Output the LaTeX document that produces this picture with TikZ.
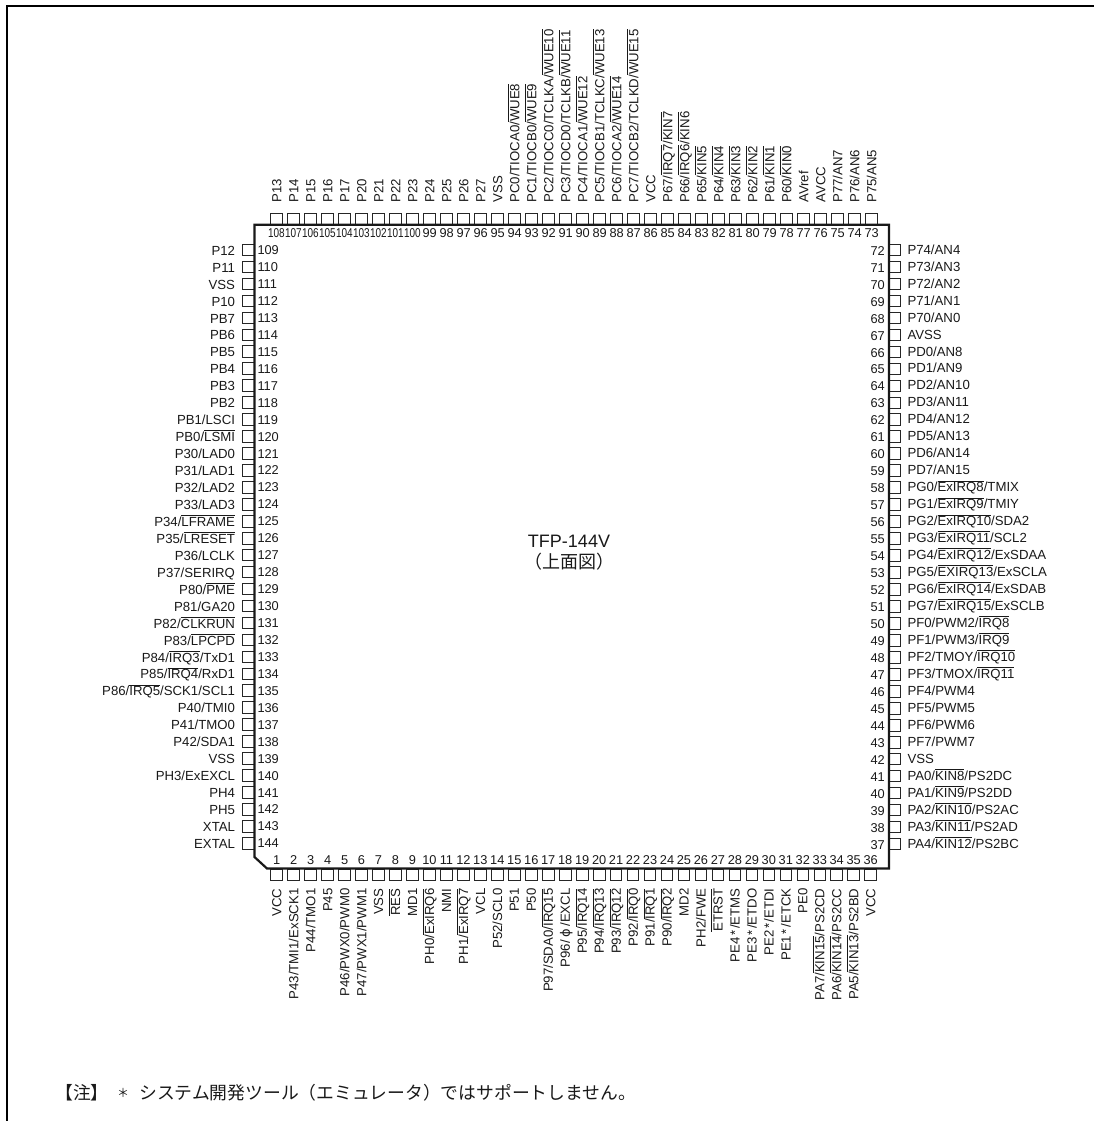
\documentclass[tikz,border=0pt]{standalone}
\usepackage{fontspec}
\usepackage{graphicx}
\setmainfont{Liberation Sans}
\newfontfamily\jpfont{Noto Sans CJK JP}
\newfontfamily\dvfont{DejaVu Sans}
\newcommand\ob[1]{\leavevmode\vbox{\hrule height .5pt \kern 1.5pt \hbox{#1}}}
\newcommand\nar[1]{\scalebox{.78}[1]{#1}}
\newcommand\myast{\kern1.6pt*\kern1.6pt}
\tikzset{
  x=1pt,y=-1pt,
  frame/.style={draw=black,line width=2.4pt},
  chip/.style={draw=black!90,line width=2.2pt,line join=miter},
  pad/.style={draw=black!85,line width=.85pt,minimum width=11.6pt,minimum height=11.6pt,inner sep=0pt,outer sep=0pt},
  lab/.style={inner sep=0pt,outer sep=0pt,font=\fontsize{13.2pt}{15pt}\selectfont,text=black!90},
  num/.style={inner sep=0pt,outer sep=0pt,font=\fontsize{12.8pt}{15pt}\selectfont,text=black!90},
  title/.style={inner sep=0pt,font=\fontsize{18pt}{20pt}\selectfont,text=black!90},
  note/.style={inner sep=0pt,anchor=base west,font=\fontsize{17.8pt}{20pt}\jpfont,text=black!90}
}
\begin{document}
\begin{tikzpicture}
\useasboundingbox (0,0) rectangle (1094,1121);
\draw[frame] (7,1121) -- (7,6) -- (1094,6);

% top side
\foreach \n/\s [count=\i from 0] in {
 108/{P13},107/{P14},106/{P15},105/{P16},104/{P17},103/{P20},102/{P21},101/{P22},100/{P23},
 99/{P24},98/{P25},97/{P26},96/{P27},95/{VSS},94/{PC0/TIOCA0/\ob{WUE8}},93/{PC1/TIOCB0/\ob{WUE9}},
 92/{PC2/TIOCC0/TCLKA/\ob{WUE10}},91/{PC3/TIOCD0/TCLKB/\ob{WUE11}},90/{PC4/TIOCA1/\ob{WUE12}},
 89/{PC5/TIOCB1/TCLKC/\ob{WUE13}},88/{PC6/TIOCA2/\ob{WUE14}},87/{PC7/TIOCB2/TCLKD/\ob{WUE15}},
 86/{VCC},85/{P67/\ob{IRQ7}/\ob{KIN7}},84/{P66/\ob{IRQ6}/\ob{KIN6}},83/{P65/\ob{KIN5}},82/{P64/\ob{KIN4}},
 81/{P63/\ob{KIN3}},80/{P62/\ob{KIN2}},79/{P61/\ob{KIN1}},78/{P60/\ob{KIN0}},77/{AVref},76/{AVCC},
 75/{P77/AN7},74/{P76/AN6},73/{P75/AN5}} {
  \pgfmathsetmacro\px{276.7+17*\i}
  \node[pad,name=pad\n] at (\px,218.8) {};
  \node[lab,rotate=90,anchor=base west,name=lab\n] at (\px+4.7,202.6) {\s};
  \ifnum\n>99
    \node[num,name=num\n] at (\px-.3,232.8) {\nar{\n}};
  \else
    \node[num,name=num\n] at (\px,232.8) {\n};
  \fi
}

% bottom side
\foreach \n/\s [count=\i from 0] in {
 1/{VCC},2/{P43/TMI1/ExSCK1},3/{P44/TMO1},4/{P45},5/{P46/PWX0/PWM0},6/{P47/PWX1/PWM1},7/{VSS},8/{\ob{RES}},9/{MD1},
 10/{PH0/\ob{ExIRQ6}},11/{NMI},12/{PH1/\ob{ExIRQ7}},13/{VCL},14/{P52/SCL0},15/{P51},16/{P50},17/{P97/SDA0/\ob{IRQ15}},
 18/{P96/\kern2.5pt{\dvfont\fontsize{13pt}{15pt}\selectfont ϕ}\kern2.5pt/EXCL},19/{P95/\ob{IRQ14}},20/{P94/\ob{IRQ13}},21/{P93/\ob{IRQ12}},22/{P92/\ob{IRQ0}},23/{P91/\ob{IRQ1}},
 24/{P90/\ob{IRQ2}},25/{MD2},26/{PH2/FWE},27/{\ob{ETRST}},28/{PE4\myast/ETMS},29/{PE3\myast/ETDO},30/{PE2\myast/ETDI},31/{PE1\myast/ETCK},
 32/{PE0},33/{PA7/\ob{KIN15}/PS2CD},34/{PA6/\ob{KIN14}/PS2CC},35/{PA5/\ob{KIN13}/PS2BD},36/{VCC}} {
  \pgfmathsetmacro\px{276.7+16.97*\i}
  \node[pad,name=pad\n] at (\px,874.8) {};
  \node[lab,rotate=90,anchor=base east,name=lab\n] at (\px+4.7,888.5) {\s};
  \node[num,name=num\n] at (\px,860) {\n};
}

% left side
\foreach \n/\s [count=\i from 0] in {
 109/{P12},110/{P11},111/{VSS},112/{P10},113/{PB7},114/{PB6},115/{PB5},116/{PB4},117/{PB3},118/{PB2},
 119/{PB1/LSCI},120/{PB0/\ob{LSMI}},121/{P30/LAD0},122/{P31/LAD1},123/{P32/LAD2},124/{P33/LAD3},
 125/{P34/\ob{LFRAME}},126/{P35/\ob{LRESET}},127/{P36/LCLK},128/{P37/SERIRQ},129/{P80/\ob{PME}},130/{P81/GA20},
 131/{P82/\ob{CLKRUN}},132/{P83/\ob{LPCPD}},133/{P84/\ob{IRQ3}/TxD1},134/{P85/\ob{IRQ4}/RxD1},
 135/{P86/\ob{IRQ5}/SCK1/SCL1},136/{P40/TMI0},137/{P41/TMO0},138/{P42/SDA1},139/{VSS},140/{PH3/ExEXCL},
 141/{PH4},142/{PH5},143/{XTAL},144/{EXTAL}} {
  \pgfmathsetmacro\py{250+16.95*\i}
  \node[pad,name=pad\n] at (248.2,\py) {};
  \node[lab,anchor=base east,name=lab\n] at (235,\py+5.2) {\s};
  \node[num,anchor=base west,name=num\n] at (257.5,\py+4.6) {\n};
}

% right side
\foreach \n/\s [count=\i from 0] in {
 72/{P74/AN4},71/{P73/AN3},70/{P72/AN2},69/{P71/AN1},68/{P70/AN0},67/{AVSS},66/{PD0/AN8},65/{PD1/AN9},
 64/{PD2/AN10},63/{PD3/AN11},62/{PD4/AN12},61/{PD5/AN13},60/{PD6/AN14},59/{PD7/AN15},
 58/{PG0/\ob{ExIRQ8}/TMIX},57/{PG1/\ob{ExIRQ9}/TMIY},56/{PG2/\ob{ExIRQ10}/SDA2},55/{PG3/\ob{ExIRQ11}/SCL2},
 54/{PG4/\ob{ExIRQ12}/ExSDAA},53/{PG5/\ob{EXIRQ13}/ExSCLA},52/{PG6/\ob{ExIRQ14}/ExSDAB},51/{PG7/\ob{ExIRQ15}/ExSCLB},
 50/{PF0/PWM2/\ob{IRQ8}},49/{PF1/PWM3/\ob{IRQ9}},48/{PF2/TMOY/\ob{IRQ10}},47/{PF3/TMOX/\ob{IRQ11}},
 46/{PF4/PWM4},45/{PF5/PWM5},44/{PF6/PWM6},43/{PF7/PWM7},42/{VSS},41/{PA0/\ob{KIN8}/PS2DC},40/{PA1/\ob{KIN9}/PS2DD},
 39/{PA2/\ob{KIN10}/PS2AC},38/{PA3/\ob{KIN11}/PS2AD},37/{PA4/\ob{KIN12}/PS2BC}} {
  \pgfmathsetmacro\py{250+16.97*\i}
  \node[pad,name=pad\n] at (895,\py) {};
  \node[lab,anchor=base west,name=lab\n] at (907.5,\py+4.2) {\s};
  \node[num,anchor=base east,name=num\n] at (884.8,\py+5.2) {\n};
}

% package outline
\coordinate (c1) at (254.5,224.7);
\coordinate (c2) at (889,224.7);
\coordinate (c3) at (889,868.5);
\coordinate (c4) at (267,868.5);
\coordinate (c5) at (254.5,857);
\draw[chip] (c1) -- (c2) -- (c3) -- (c4) -- (c5) -- cycle;

\node[title,name=t1] at (569,541.5) {TFP-144V};
\node[title,name=t2] at (569,561.5) {\jpfont （上面図）};

\node[note,name=n1] at (55,1099) {【注】};
\node[note,name=n2] at (117,1097) {\fontsize{12pt}{15pt}\selectfont ＊};
\node[note,name=n3] at (139,1099) {システム開発ツール（エミュレータ）ではサポートしません。};
\end{tikzpicture}
\end{document}
